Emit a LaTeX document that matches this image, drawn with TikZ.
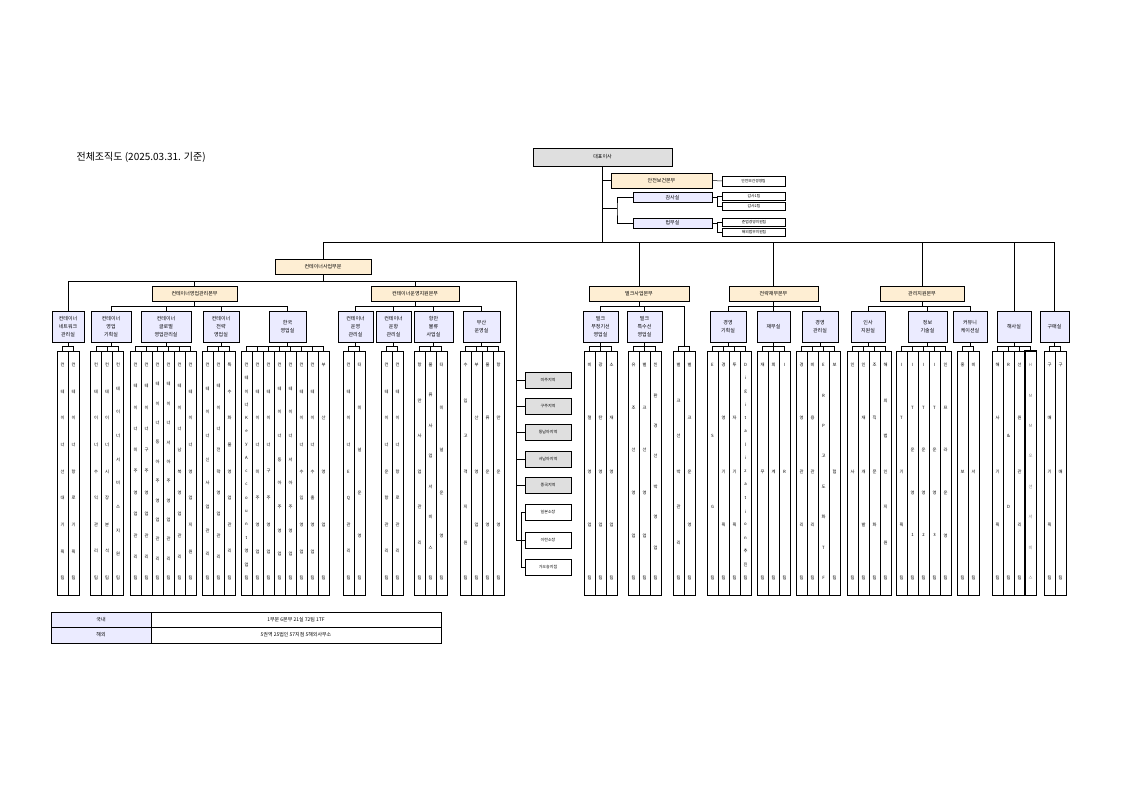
\documentclass[tikz,border=0pt]{standalone}
\usepackage{fontspec}
\setmainfont{Noto Sans CJK KR}
\begin{document}
\begin{tikzpicture}[x=1pt,y=-1pt,line width=0.5pt,
 box/.style={draw,inner sep=0.5pt,align=center,font=\fontsize{5}{8}\selectfont},
 gbox/.style={box,fill=gray!25},
 ybox/.style={box,fill=yellow!20!orange!15,minimum height=15},
 bbox/.style={box,fill=blue!8,minimum height=31},
 sbox/.style={box,font=\fontsize{3.8}{4}\selectfont,minimum width=63},
 leaf/.style={draw,minimum width=11,minimum height=244,inner sep=0},
 lt/.style={font=\fontsize{4.3}{5}\selectfont,inner sep=0},
 rbox/.style={box,minimum width=46,minimum height=16,font=\fontsize{4}{5}\selectfont},
 tcell/.style={draw,minimum height=15.5,inner sep=0,font=\fontsize{5}{6}\selectfont}]
\useasboundingbox (0,0) rectangle (1122,794);
\coordinate (barY) at (0,346.5);
\coordinate (bar306) at (0,306);
\coordinate (top242) at (0,242);
\newcommand\leafgroup[2]{%
 \foreach \x/\t [count=\k] in {#2}{%
   \node[leaf] (#1-\k) at (\x,473) {};
   \draw (#1.south) -- (#1.south |- barY) -| (#1-\k.north);
   \foreach \c [count=\i] in \t {\xdef\nn{\i}}%
   \foreach \c [count=\i] in \t {\node[lt] at (\x,{365+(\i-1)*213/(\nn-1)}) {\c};}%
 }}
% title
\node[anchor=west,font=\fontsize{10}{12}\selectfont] (title) at (73,157) {전체조직도 (2025.03.31. 기준)};
% top
\node[gbox,minimum width=139,minimum height=18] (ceo) at (602.5,157) {대표이사};
\node[ybox,minimum width=101] (safe) at (661.5,180.5) {안전보건본부};
\node[sbox,minimum height=10] (safeR) at (753.5,181) {안전보건경영팀};
\node[box,fill=blue!8,minimum width=79,minimum height=10] (audit) at (672.5,197.5) {감사실};
\node[box,fill=blue!8,minimum width=79,minimum height=10] (legal) at (672.5,223) {법무실};
\node[sbox,minimum height=8.5] (a1) at (754,196.5) {감사1팀};
\node[sbox,minimum height=8.5] (a2) at (754,206.5) {감사2팀};
\node[sbox,minimum height=8.5] (l1) at (754,222.5) {준법경영지원팀};
\node[sbox,minimum height=8.5] (l2) at (754,232.5) {해외법무지원팀};
\coordinate (br) at (617,208);
\draw (ceo.south) -- (ceo.south |- top242);
\draw (safe.west) -- (safe.west -| ceo.south);
\draw (ceo.south |- br) -- (br);
\draw (audit.west) -| (br) |- (legal.west);
\draw (safe.east) -- (safeR.west);
\draw (a1.west) -- ++(-5,0) |- (audit.east);
\draw (a2.west) -- ++(-5,0) |- (audit.east);
\draw (l1.west) -- ++(-5,0) |- (legal.east);
\draw (l2.west) -- ++(-5,0) |- (legal.east);
% divisions
\node[ybox,minimum width=96] (cdiv) at (323,267) {컨테이너사업부문};
\node[ybox,minimum width=100] (bulk) at (639,293.5) {벌크사업본부};
\node[ybox,minimum width=89] (fin) at (773.5,293.5) {전략재무본부};
\node[ybox,minimum width=84] (mgmt) at (922,293.5) {관리지원본부};
\node[bbox,minimum width=34] (h1) at (1014,326.5) {해사실};
\node[bbox,minimum width=29] (g1) at (1054.5,326.5) {구매실};
\draw (cdiv.north) -- (cdiv.north |- top242) -- (g1.north |- top242) -- (g1.north);
\foreach \n in {bulk,fin,mgmt,h1} \draw (\n.north) -- (\n.north |- top242);
% container
\coordinate (bar281) at (0,281);
\coordinate (reg) at (516,281);
\node[ybox,minimum width=85] (cs) at (194.5,294) {컨테이너영업관리본부};
\node[ybox,minimum width=88] (co) at (415,294) {컨테이너운영지원본부};
\node[bbox,minimum width=32] (n1) at (68,326.5) {컨테이너\\네트워크\\관리실};
\draw (cdiv.south) -- (cdiv.south |- bar281);
\draw (n1.north) |- (reg);
\draw (cs.north) -- (cs.north |- bar281);
\draw (co.north) -- (co.north |- bar281);
\node[bbox,minimum width=40] (n2) at (111,326.5) {컨테이너\\영업\\기획실};
\node[bbox,minimum width=50] (n3) at (166,326.5) {컨테이너\\글로벌\\영업관리실};
\node[bbox,minimum width=36] (n4) at (221,326.5) {컨테이너\\전략\\영업실};
\node[bbox,minimum width=37] (n5) at (287.5,326.5) {한국\\영업실};
\node[bbox,minimum width=35] (n6) at (355.5,326.5) {컨테이너\\운영\\관리실};
\node[bbox,minimum width=35] (n7) at (393.5,326.5) {컨테이너\\운항\\관리실};
\node[bbox,minimum width=39] (n8) at (433.5,326.5) {항만\\물류\\사업실};
\node[bbox,minimum width=37] (n9) at (481.5,326.5) {부산\\운영실};
\foreach \c in {n2,n3,n4,n5} \draw (cs.south) -- (cs.south |- bar306) -| (\c.north);
\foreach \c in {n6,n7,n8,n9} \draw (co.south) -- (co.south |- bar306) -| (\c.north);
% regional
\foreach \t [count=\k] in {미주지역,구주지역,동남아지역,서남아지역,중국지역}
  \node[rbox,fill=gray!25] (r\k) at (548,{380+(\k-1)*26.25}) {\t};
\node[rbox] (r6) at (548,512) {일본소장};
\node[rbox] (r7) at (548,540) {이란소장};
\node[rbox] (r8) at (548,567) {가오슝지점};
\draw (reg) -- (reg |- r7.west);
\foreach \k in {1,...,5,7} \draw (reg |- r\k.west) -- (r\k.west);
\coordinate (reg2) at (521,512);
\draw (r6.west) -| (reg2) |- (r8.west);
% bulk
\node[bbox,minimum width=35] (b1) at (600.5,326.5) {벌크\\부정기선\\영업실};
\node[bbox,minimum width=35] (b2) at (644.5,326.5) {벌크\\특수선\\영업실};
\node[inner sep=0,minimum size=0] (b3) at (684,306) {};
\foreach \c in {b1,b2} \draw (bulk.south) -- (bulk.south |- bar306) -| (\c.north);
\draw (bulk.south) -- (bulk.south |- bar306) -| (b3.center);
% fin
\node[bbox,minimum width=36] (s1) at (728,326.5) {경영\\기획실};
\node[bbox,minimum width=33] (s2) at (773.5,326.5) {재무실};
\node[bbox,minimum width=36] (s3) at (820,326.5) {경영\\관리실};
\foreach \c in {s1,s2,s3} \draw (fin.south) -- (fin.south |- bar306) -| (\c.north);
% mgmt
\node[bbox,minimum width=34] (m1) at (868,326.5) {인사\\지원실};
\node[bbox,minimum width=39] (m2) at (927.5,326.5) {정보\\기술실};
\node[bbox,minimum width=34] (m3) at (970,326.5) {커뮤니\\케이션실};
\foreach \c in {m1,m2,m3} \draw (mgmt.south) -- (mgmt.south |- bar306) -| (\c.north);
% leaves
\leafgroup{n1}{62.5/{컨,테,이,너,선,대,기,획,팀},73.5/{컨,테,이,너,항,로,기,획,팀}}
\leafgroup{n2}{96/{컨,테,이,너,수,익,관,리,팀},107/{컨,테,이,너,시,장,분,석,팀},118/{컨,테,이,너,서,비,스,지,원,팀}}
\leafgroup{n3}{135.5/{컨,테,이,너,미,주,영,업,관,리,팀},146.5/{컨,테,이,너,구,주,영,업,관,리,팀},157.5/{컨,테,이,너,동,아,주,영,업,관,리,팀},168.5/{컨,테,이,너,서,아,주,영,업,관,리,팀},179.5/{컨,테,이,너,남,북,영,업,관,리,팀},190.5/{컨,테,이,너,영,업,지,원,팀}}
\leafgroup{n4}{207.5/{컨,테,이,너,신,사,업,관,리,팀},218.5/{컨,테,이,너,전,략,영,업,관,리,팀},229.5/{특,수,화,물,영,업,관,리,팀}}
\leafgroup{n5}{246.5/{컨,테,이,너,K,e,y,A,c,c,o,u,n,t,영,업,팀},257.5/{컨,테,이,너,미,주,영,업,팀},268.5/{컨,테,이,너,구,주,영,업,팀},279.5/{컨,테,이,너,동,아,주,영,업,팀},290.5/{컨,테,이,너,서,아,주,영,업,팀},301.5/{컨,테,이,너,수,입,영,업,팀},312.5/{컨,테,이,너,수,출,영,업,팀},323.5/{부,산,영,업,팀}}
\leafgroup{n6}{348.5/{컨,테,이,너,E,Q,관,리,팀},359.5/{터,미,널,운,영,팀}}
\leafgroup{n7}{386.5/{컨,테,이,너,운,항,관,리,팀},397.5/{컨,테,이,너,항,로,관,리,팀}}
\leafgroup{n8}{419.5/{항,만,사,업,관,리,팀},430.5/{물,류,사,업,서,비,스,팀},441.5/{터,미,널,운,영,팀}}
\leafgroup{n9}{465.5/{수,입,고,객,지,원,팀},476.5/{부,산,영,업,팀},487.5/{물,류,운,영,팀},498.5/{항,만,운,영,팀}}
\leafgroup{b1}{589.5/{비,철,영,업,팀},600.5/{광,탄,영,업,팀},611.5/{소,재,영,업,팀}}
\leafgroup{b2}{633.5/{유,조,선,영,업,팀},644.5/{벌,크,선,영,업,팀},655.5/{친,환,경,선,박,영,업,팀}}
\leafgroup{b3}{678.5/{벌,크,선,박,관,리,팀},689.5/{벌,크,운,영,팀}}
\leafgroup{s1}{712.5/{E,S,G,팀},723.5/{경,영,기,획,팀},734.5/{투,자,기,획,팀},745.5/{D,i,g,i,t,a,l,i,z,a,t,i,o,n,추,진,팀}}
\leafgroup{s2}{762.5/{재,무,팀},773.5/{회,계,팀},784.5/{I,R,팀}}
\leafgroup{s3}{801.5/{경,영,관,리,팀},812.5/{비,용,관,리,팀},823.5/{E,R,P,고,도,화,T,F},834.5/{보,험,팀}}
\leafgroup{m1}{852.5/{인,사,팀},863.5/{인,재,개,발,팀},874.5/{조,직,문,화,팀},885.5/{해,외,법,인,지,원,팀}}
\leafgroup{m2}{901.5/{I,T,기,획,팀},912.5/{I,T,운,영,1,팀},923.5/{I,T,운,영,2,팀},934.5/{I,T,운,영,3,팀},945.5/{인,프,라,운,영,팀}}
\leafgroup{m3}{962.5/{홍,보,팀},973.5/{비,서,팀}}
\leafgroup{h1}{997.5/{해,사,기,획,팀},1008.5/{R,\&,D,팀},1019.5/{선,원,관,리,팀},1030.5/{\color{gray}H,\color{gray}M,\color{gray}M,\color{gray}오,\color{gray}션,\color{gray}서,\color{gray}비,\color{gray}스}}
\draw[line width=1.3pt] (h1-4.north west) rectangle (h1-4.south east);
\leafgroup{g1}{1049.5/{구,매,기,획,팀},1060.5/{구,매,팀}}
% table
\node[tcell,fill=blue!8,minimum width=100] (k1) at (101,619.5) {국내};
\node[tcell,minimum width=290] (k2) at (296,619.5) {1부문 6본부 21실 72팀 1TF};
\node[tcell,fill=blue!8,minimum width=100] (k3) at (101,635) {해외};
\node[tcell,minimum width=290] (k4) at (296,635) {5권역 25법인 57지점 5해외사무소};
\end{tikzpicture}
\end{document}
